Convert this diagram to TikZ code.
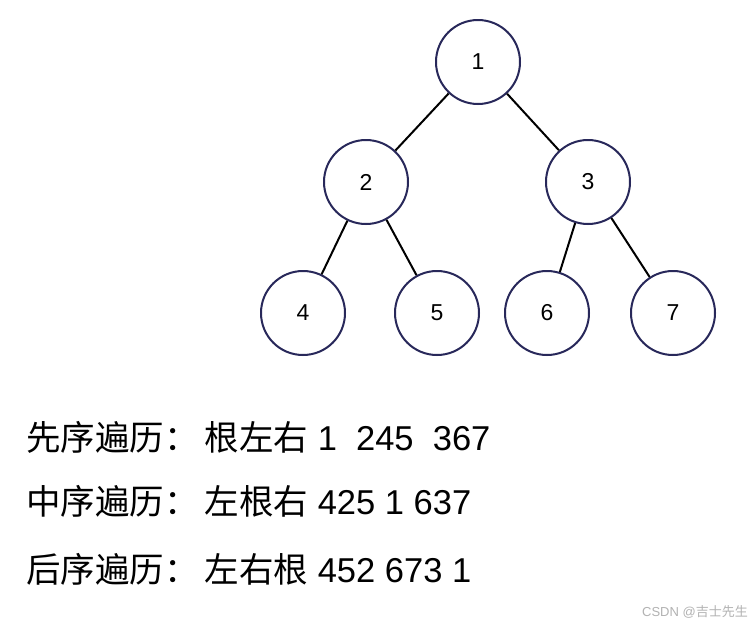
\documentclass[tikz,border=0pt]{standalone}
\usepackage{fontspec}
\setmainfont{Liberation Sans}
\newfontfamily\cjk{Noto Sans CJK SC}
\begin{document}
\begin{tikzpicture}[x=1pt,y=-1pt,
  tn/.style={circle,draw=navyc,line width=2pt,minimum size=84pt,inner sep=0pt,font=\fontsize{23}{26}\selectfont},
  ed/.style={line width=2pt,black},
  ln/.style={anchor=base west,inner sep=0pt,font=\fontsize{34.5}{40}\selectfont}]
\definecolor{navyc}{RGB}{40,40,90}
\useasboundingbox[fill=white] (0,0) rectangle (754,627);
\node[tn] (n1) at (478,62) {1};
\node[tn] (n2) at (366,182) {2};
\node[tn] (n3) at (588,182) {3};
\node[tn] (n4) at (303,313) {4};
\node[tn] (n5) at (437,313) {5};
\node[tn] (n6) at (547,313) {6};
\node[tn] (n7) at (673,313) {7};
\draw[ed] (n1) -- (n2);
\draw[ed] (n1) -- (n3);
\draw[ed] (n2) -- (n4);
\draw[ed] (n2) -- (n5);
\draw[ed] (n3) -- (n6);
\draw[ed] (n3) -- (n7);
\node[ln] (t1) at (26,450) {{\cjk 先序遍历：\hspace{6pt}根左右} 1\ \ 245\ \ 367};
\node[ln] (t2) at (26,514) {{\cjk 中序遍历：\hspace{6pt}左根右} 425 1 637};
\node[ln] (t3) at (26,582) {{\cjk 后序遍历：\hspace{6pt}左右根} 452 673 1};
\node[anchor=base east,inner sep=0pt,text=gray!60,font=\fontsize{13}{15}\selectfont] (wm) at (748,616) {CSDN @{\cjk 吉士先生}};
\end{tikzpicture}
\end{document}
